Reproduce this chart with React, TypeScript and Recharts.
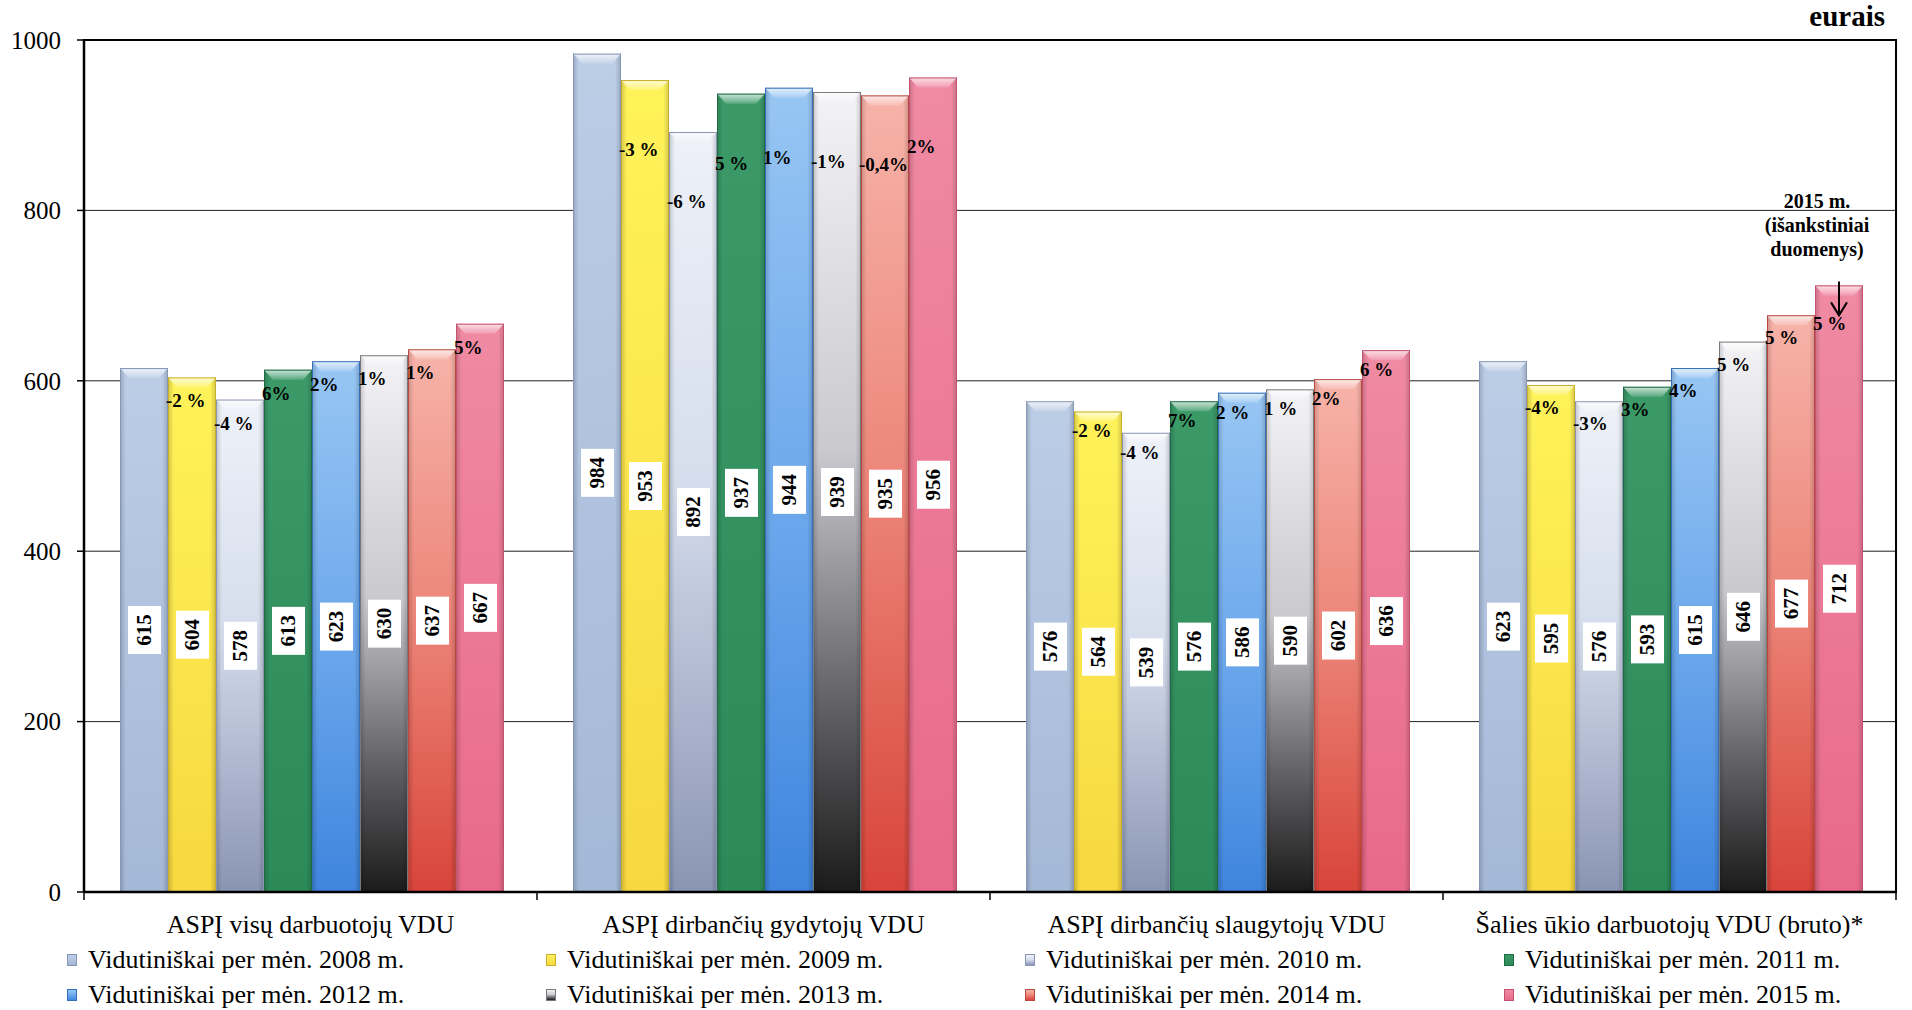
import React from 'react';
import { BarChart, Bar, XAxis, YAxis, CartesianGrid, Legend, LabelList, ReferenceArea } from 'recharts';

const categories = [
  'ASPĮ visų darbuotojų VDU',
  'ASPĮ dirbančių gydytojų VDU',
  'ASPĮ dirbančių slaugytojų VDU',
  'Šalies ūkio darbuotojų VDU (bruto)*',
];
const years = ['2008', '2009', '2010', '2011', '2012', '2013', '2014', '2015'];

const values2008 = [615, 984, 576, 623];
const values2009 = [604, 953, 564, 595];
const values2010 = [578, 892, 539, 576];
const values2011 = [613, 937, 576, 593];
const values2012 = [623, 944, 586, 615];
const values2013 = [630, 939, 590, 646];
const values2014 = [637, 935, 602, 677];
const values2015 = [667, 956, 636, 712];

const change2009 = ['-2 %', '-3 %', '-2 %', '-4%'];
const change2010 = ['-4 %', '-6 %', '-4 %', '-3%'];
const change2011 = ['6%', '5 %', '7%', '3%'];
const change2012 = ['2%', '1%', '2 %', '4%'];
const change2013 = ['1%', '-1%', '1 %', '5 %'];
const change2014 = ['1%', '-0,4%', '2%', '5 %'];
const change2015 = ['5%', '2%', '6 %', '5 %'];

const yTicks = [0, 200, 400, 600, 800, 1000];
const legendPrefix = 'Vidutiniškai per mėn.';
const legendSuffix = 'm.';
const unitLabel = 'eurais';
const annotatedCategory = 'Šalies ūkio darbuotojų VDU (bruto)*';
const annotationLines = ['2015 m.', '(išankstiniai', 'duomenys)'];

// label placement (style only): how far below a bar top the change label sits, per category
const changeLabelDrop = [30, 76, 26, 29];

const valuesByYear: Record<string, number[]> = {
  '2008': values2008, '2009': values2009, '2010': values2010, '2011': values2011,
  '2012': values2012, '2013': values2013, '2014': values2014, '2015': values2015,
};
const changeByYear: Record<string, (string | null)[]> = {
  '2008': [null, null, null, null], '2009': change2009, '2010': change2010, '2011': change2011,
  '2012': change2012, '2013': change2013, '2014': change2014, '2015': change2015,
};

const data = categories.map((c, i) => {
  const row: Record<string, any> = { category: c, note: c === annotatedCategory ? 'yes' : null };
  years.forEach((yr) => {
    row['v' + yr] = valuesByYear[yr][i];
    row['c' + yr] = changeByYear[yr][i];
  });
  return row;
});

const SERIF = '"Liberation Serif", "Times New Roman", Times, serif';

const gradients: Record<string, { stops: [number, string][]; edge: string }> = {
  '2008': { stops: [[0, '#bccde6'], [1, '#a4b8d7']], edge: '#8596b6' },
  '2009': { stops: [[0, '#fff35a'], [1, '#f7d840']], edge: '#c8ae2c' },
  '2010': { stops: [[0, '#eef1f8'], [0.45, '#d6deed'], [1, '#8a95b4']], edge: '#8c96b2' },
  '2011': { stops: [[0, '#3c9a69'], [1, '#2c8a58']], edge: '#1f6b43' },
  '2012': { stops: [[0, '#98c6f3'], [0.5, '#6ea9ec'], [1, '#3f85de']], edge: '#3470b8' },
  '2013': { stops: [[0, '#f3f3f6'], [0.45, '#c9c9ce'], [0.75, '#66666a'], [1, '#1b1b1b']], edge: '#77777c' },
  '2014': { stops: [[0, '#f7b3a9'], [0.5, '#ec8478'], [1, '#d8443a']], edge: '#b9493f' },
  '2015': { stops: [[0, '#f08aa3'], [1, '#e8698a']], edge: '#c4516f' },
};

const cssGradient = (yr: string) =>
  'linear-gradient(to bottom, ' +
  gradients[yr].stops.map(([o, c]) => `${c} ${Math.round(o * 100)}%`).join(', ') +
  ')';

const makeShape = (yr: string) => (props: any) => {
  const { x, y, width, height } = props;
  if (!height || height <= 0) return null;
  const b = Math.min(10, height / 2);
  return (
    <g>
      <rect x={x} y={y} width={width} height={height} fill={`url(#grad${yr})`} />
      <rect x={x} y={y} width={width} height={height} fill="url(#edgeShade)" />
      <polygon
        points={`${x},${y} ${x + width},${y} ${x + width - 9},${y + b} ${x + 9},${y + b}`}
        fill="url(#bevel)"
      />
      <rect x={x + 0.5} y={y + 0.5} width={width - 1} height={height - 1} fill="none" stroke={gradients[yr].edge} strokeWidth={1} />
    </g>
  );
};

const box = (props: any) => {
  const vb = props.viewBox || {};
  const x = props.x ?? vb.x;
  const y = props.y ?? vb.y;
  const width = props.width ?? vb.width;
  const height = props.height ?? vb.height;
  return { x, y, width, height };
};

const ValueLabel = (props: any) => {
  const { x, y, width, height } = box(props);
  if (props.value == null || x == null) return null;
  const cx = x + width / 2;
  const cy = y + height / 2;
  return (
    <g>
      <rect x={cx - 16} y={cy - 24} width={33} height={48} fill="#ffffff" />
      <text
        x={cx + 0.5}
        y={cy}
        transform={`rotate(-90 ${cx + 0.5} ${cy})`}
        textAnchor="middle"
        dominantBaseline="central"
        fontFamily={SERIF}
        fontWeight="bold"
        fontSize={21}
        fill="#000"
      >
        {props.value}
      </text>
    </g>
  );
};

const noteIndex = categories.indexOf(annotatedCategory);

const ChangeLabel = (props: any) => {
  const { x, y } = box(props);
  if (props.value == null || x == null) return null;
  const idx = props.index ?? -1;
  let drop = changeLabelDrop[idx] ?? 29;
  if (props.isNoted && idx === noteIndex) drop += 16;
  return (
    <text x={x - 2} y={y + drop} textAnchor="start" fontFamily={SERIF} fontWeight="bold" fontSize={19} fill="#000">
      {props.value}
    </text>
  );
};

const NoteLabel = (props: any) => {
  const { x, y, width } = box(props);
  if (!props.value || x == null) return null;
  const cx = x + width / 2;
  return (
    <g>
      {annotationLines.map((t, i) => (
        <text
          key={i}
          x={cx - 22}
          y={y - 77 + i * 24}
          textAnchor="middle"
          fontFamily={SERIF}
          fontWeight="bold"
          fontSize={20}
          fill="#000"
        >
          {t}
        </text>
      ))}
      <line x1={cx} x2={cx} y1={y - 4} y2={y + 30} stroke="#000" strokeWidth={2} />
      <polyline points={`${cx - 8},${y + 17} ${cx},${y + 30} ${cx + 8},${y + 17}`} fill="none" stroke="#000" strokeWidth={2} />
    </g>
  );
};

const CHART_W = 1912;
const CHART_H = 1010;
const MARGIN = { top: 40, right: 16, bottom: 0, left: 0 };
const Y_W = 84;

const CategoryTick = (props: any) => {
  const { x, y, payload, index, visibleTicksCount } = props;
  const half =
    payload && payload.offset != null
      ? payload.offset
      : (CHART_W - MARGIN.left - MARGIN.right - Y_W) / categories.length / 2;
  const isLast = index === (visibleTicksCount ?? categories.length) - 1;
  return (
    <g>
      <line x1={x - half} x2={x - half} y1={y} y2={y + 8} stroke="#000" strokeWidth={1.5} />
      {isLast && <line x1={x + half} x2={x + half} y1={y} y2={y + 8} stroke="#000" strokeWidth={1.5} />}
      <text x={x} y={y + 41} textAnchor="middle" fontFamily={SERIF} fontSize={26} fill="#000">
        {payload.value}
      </text>
    </g>
  );
};

const renderLegend = () => (
  <div style={{ position: 'relative', width: CHART_W, height: 78, fontFamily: SERIF, fontSize: 26, color: '#000' }}>
    {years.map((yr, i) => {
      const col = i % 4;
      const row = Math.floor(i / 4);
      return (
        <div
          key={yr}
          style={{
            position: 'absolute',
            left: 67 + col * 479,
            top: 10 + row * 35,
            height: 35,
            display: 'flex',
            alignItems: 'center',
            whiteSpace: 'nowrap',
            lineHeight: '30px',
          }}
        >
          <span
            style={{
              display: 'inline-block',
              width: 10,
              height: 12,
              marginRight: 11,
              background: cssGradient(yr),
              border: `1px solid ${gradients[yr].edge}`,
              boxSizing: 'border-box',
            }}
          />
          <span>{`${legendPrefix} ${yr} ${legendSuffix}`}</span>
        </div>
      );
    })}
  </div>
);

export default function App() {
  return (
    <div style={{ position: 'absolute', left: 0, top: 0, width: CHART_W, height: CHART_H, overflow: 'hidden', background: '#fff' }}>
      <div
        style={{
          position: 'absolute',
          right: 27,
          top: 2,
          fontFamily: SERIF,
          fontWeight: 'bold',
          fontSize: 29,
          lineHeight: '29px',
          color: '#000',
        }}
      >
        {unitLabel}
      </div>
      <BarChart width={CHART_W} height={CHART_H} data={data} margin={MARGIN} barCategoryGap={36} barGap={0}>
        <defs>
          {years.map((yr) => (
            <linearGradient key={yr} id={`grad${yr}`} x1="0" y1="0" x2="0" y2="1">
              {gradients[yr].stops.map(([o, c], k) => (
                <stop key={k} offset={o} stopColor={c} />
              ))}
            </linearGradient>
          ))}
          <linearGradient id="edgeShade" x1="0" y1="0" x2="1" y2="0">
            <stop offset="0" stopColor="#000" stopOpacity={0.18} />
            <stop offset="0.12" stopColor="#000" stopOpacity={0} />
            <stop offset="0.88" stopColor="#000" stopOpacity={0} />
            <stop offset="1" stopColor="#000" stopOpacity={0.18} />
          </linearGradient>
          <linearGradient id="bevel" x1="0" y1="0" x2="0" y2="1">
            <stop offset="0" stopColor="#fff" stopOpacity={0.75} />
            <stop offset="1" stopColor="#fff" stopOpacity={0.15} />
          </linearGradient>
        </defs>
        <CartesianGrid vertical={false} stroke="#222" strokeWidth={1} />
        <ReferenceArea y1={0} y2={1000} fill="none" stroke="#000" strokeWidth={2} ifOverflow="visible" />
        <XAxis
          dataKey="category"
          height={40}
          tickLine={false}
          tickSize={0}
          tickMargin={0}
          axisLine={{ stroke: '#000', strokeWidth: 2.5 }}
          tick={<CategoryTick />}
          interval={0}
        />
        <YAxis
          width={Y_W}
          domain={[0, 1000]}
          ticks={yTicks}
          interval={0}
          tickSize={7}
          tickMargin={16}
          axisLine={{ stroke: '#000', strokeWidth: 2.5 }}
          tickLine={{ stroke: '#000', strokeWidth: 1.5 }}
          tick={{ fontFamily: SERIF, fontSize: 25, fill: '#000' }}
        />
        <Legend verticalAlign="bottom" align="left" content={renderLegend} />
        {years.map((yr) => (
          <Bar key={yr} dataKey={'v' + yr} name={`${legendPrefix} ${yr} ${legendSuffix}`} fill={gradients[yr].stops[0][1]} shape={makeShape(yr)} isAnimationActive={false}>
            <LabelList dataKey={'v' + yr} content={<ValueLabel />} />
            {yr !== '2008' && <LabelList dataKey={'c' + yr} content={<ChangeLabel isNoted={yr === '2015'} />} />}
            {yr === '2015' && <LabelList dataKey="note" content={<NoteLabel />} />}
          </Bar>
        ))}
      </BarChart>
    </div>
  );
}
